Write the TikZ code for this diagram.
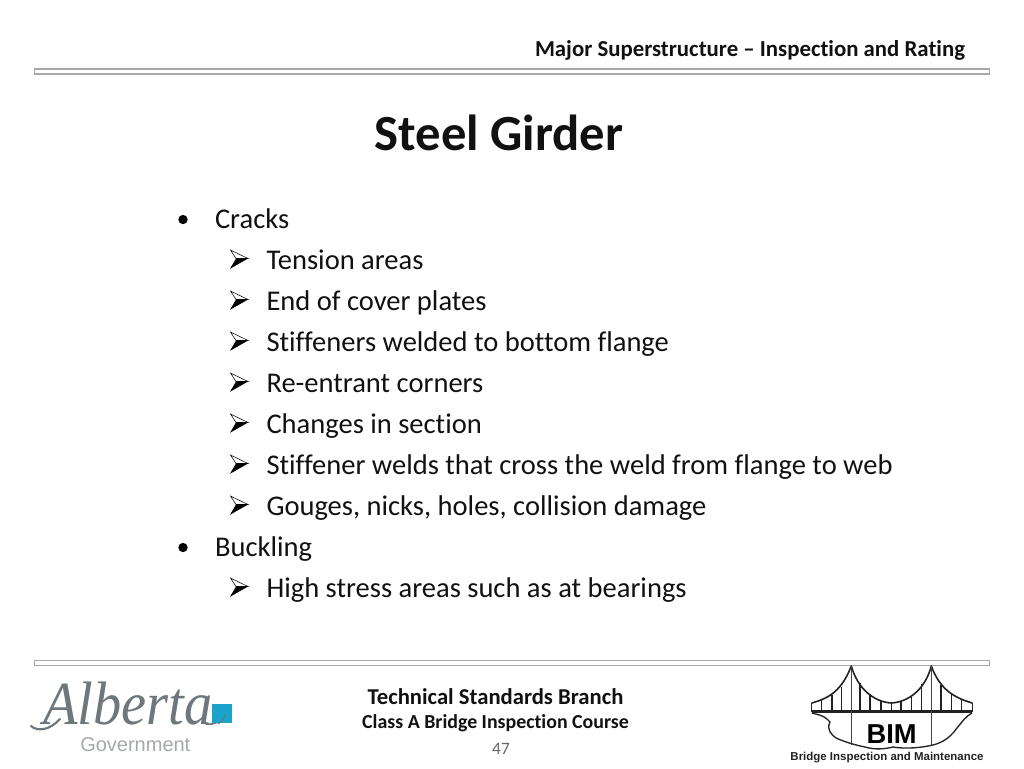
\documentclass[tikz,border=0pt]{standalone}
\usepackage{fontspec}
\setmainfont[Ligatures=NoCommon]{Carlito}
\newfontfamily\logosans{Liberation Sans}
\newfontfamily\logoserif[FakeStretch=0.92]{Liberation Serif}
\newcommand{\pxfont}[1]{\fontsize{#1}{#1}\selectfont}
\definecolor{rulegray}{HTML}{A8A8A8}
\definecolor{textblack}{HTML}{111111}
\definecolor{logogray}{HTML}{6E787C}
\definecolor{govgray}{HTML}{A6A9AB}
\definecolor{logoblue}{HTML}{1BA3C9}
\definecolor{bridgeblack}{HTML}{222222}
\tikzset{
  body/.style={anchor=base west,inner sep=0pt,outer sep=0pt,text=textblack,font=\pxfont{21.4}},
  boldtext/.style={inner sep=0pt,outer sep=0pt,text=textblack,font=\bfseries\pxfont{#1}},
  rulebar/.style={draw=rulegray,line width=0.8pt,fill=white},
  cable/.style={draw=bridgeblack,line width=1.2pt,line join=round},
  hanger/.style={draw=bridgeblack,line width=0.95pt},
  tower/.style={draw=bridgeblack!85,line width=1.15pt},
  bulletdot/.style={circle,fill=black,inner sep=0pt,minimum size=7pt}
}
\newcommand{\arrowbullet}[1]{%
  \begin{scope}[shift={(0,#1)}]
    \path[draw=black,line width=0.4pt,fill=white,line join=miter] (230.5,250) -- (248,258.5) -- (236,258.5) -- cycle;
    \path[fill=black] (248,258.5) -- (230,268.8) -- (236,258.5) -- cycle;
  \end{scope}}
\begin{document}
\begin{tikzpicture}[x=0.75pt,y=-0.75pt]
\useasboundingbox (0,0) rectangle (1024,768);
\fill[white] (0,0) rectangle (1024,768);
% header
\node[boldtext=17.1,anchor=base east] (header) at (965,56) {Major Superstructure – Inspection and Rating};
\path[rulebar] (34.5,69) rectangle (989.5,74);
\node[boldtext=38,anchor=base] (title) at (499,150) {Steel Girder};
% body
\node[bulletdot] (b1) at (183,219.5) {};
\node[body] (t1) at (215,228) {Cracks};
\arrowbullet{0}\node[body] (s1) at (266.5,269) {Tension areas};
\arrowbullet{41}\node[body] (s2) at (266.5,310) {End of cover plates};
\arrowbullet{82}\node[body] (s3) at (266.5,351) {Stiffeners welded to bottom flange};
\arrowbullet{123}\node[body] (s4) at (266.5,392) {Re-entrant corners};
\arrowbullet{164}\node[body] (s5) at (266.5,433) {Changes in section};
\arrowbullet{205}\node[body] (s6) at (266.5,474) {Stiffener welds that cross the weld from flange to web};
\arrowbullet{246}\node[body] (s7) at (266.5,515) {Gouges, nicks, holes, collision damage};
\node[bulletdot] (b2) at (183,547.5) {};
\node[body] (t2) at (215,556) {Buckling};
\arrowbullet{328}\node[body] (s8) at (266.5,597) {High stress areas such as at bearings};
% footer
\path[rulebar] (34.5,660.5) rectangle (989.5,665.5);
\node[boldtext=17,anchor=base] (f1) at (495.5,704) {Technical Standards Branch};
\node[boldtext=14.9,anchor=base] (f2) at (495.5,728) {Class A Bridge Inspection Course};
\node[inner sep=0pt,anchor=base,text=black!60,font=\pxfont{13}] (pg) at (501,754) {47};
% Alberta logo
\node[inner sep=0pt,anchor=base west,text=logogray,font=\logoserif\itshape\pxfont{46}] (alb) at (43,724) {Alberta};
\draw[draw=logogray,line width=1.6pt,line cap=round] (31,726) .. controls (38,732) and (50,730) .. (60,719);
\draw[draw=logogray,line width=1.2pt,line cap=round] (206,724) .. controls (215,725) and (222,721) .. (225,715);
\fill[logoblue] (212,703.5) rectangle (231.5,723);
\draw[draw=logogray,line width=0.7pt,line cap=round] (218,724) .. controls (222,722) and (224,719) .. (225,715);
\node[inner sep=0pt,anchor=base west,text=govgray,font=\logosans\pxfont{15}] (gov) at (80,751.5) {Government};
% BIM logo
\draw[cable] (811.7,703) .. controls (830,698) and (842,690) .. (851.3,666)
  .. controls (858,690) and (875,702) .. (891.3,703)
  .. controls (908,702) and (925,690) .. (931.3,666)
  .. controls (940,690) and (955,698) .. (972.3,703);
\draw[draw=bridgeblack,line width=2pt] (811.7,711.7) -- (972.3,711.7);
\foreach \x/\y in {811.7/703,821.7/700,832/695,841.7/687,860/683,870/694,881/701,891.3/703,901/701,911.7/695,921.7/684,941/685,951.7/694,961.7/700,972.3/703}
  \draw[hanger] (\x,\y) -- (\x,711.7);
\draw[tower] (851.3,665) -- (851.3,745);
\draw[tower] (931.3,665) -- (931.3,745);
\draw[draw=bridgeblack,line width=1pt,line join=round] (811.7,713) .. controls (825,716) and (826,718) .. (830,722)
  .. controls (826,730) and (832,735) .. (836,738) .. controls (845,742) and (855,745) .. (865,747)
  .. controls (875,750) and (885,749) .. (893,747) .. controls (905,749) and (920,748) .. (933,745)
  .. controls (945,742) and (952,735) .. (957,728) .. controls (962,722) and (966,716) .. (972,713);
\node[inner sep=0pt,text=black,font=\logosans\bfseries\pxfont{20.5}] (bim) at (891.7,734) {BIM};
\node[inner sep=0pt,text=bridgeblack,font=\logosans\bfseries\pxfont{8.6}] (bimsub) at (887,757.7) {Bridge Inspection and Maintenance};
\end{tikzpicture}
\end{document}
